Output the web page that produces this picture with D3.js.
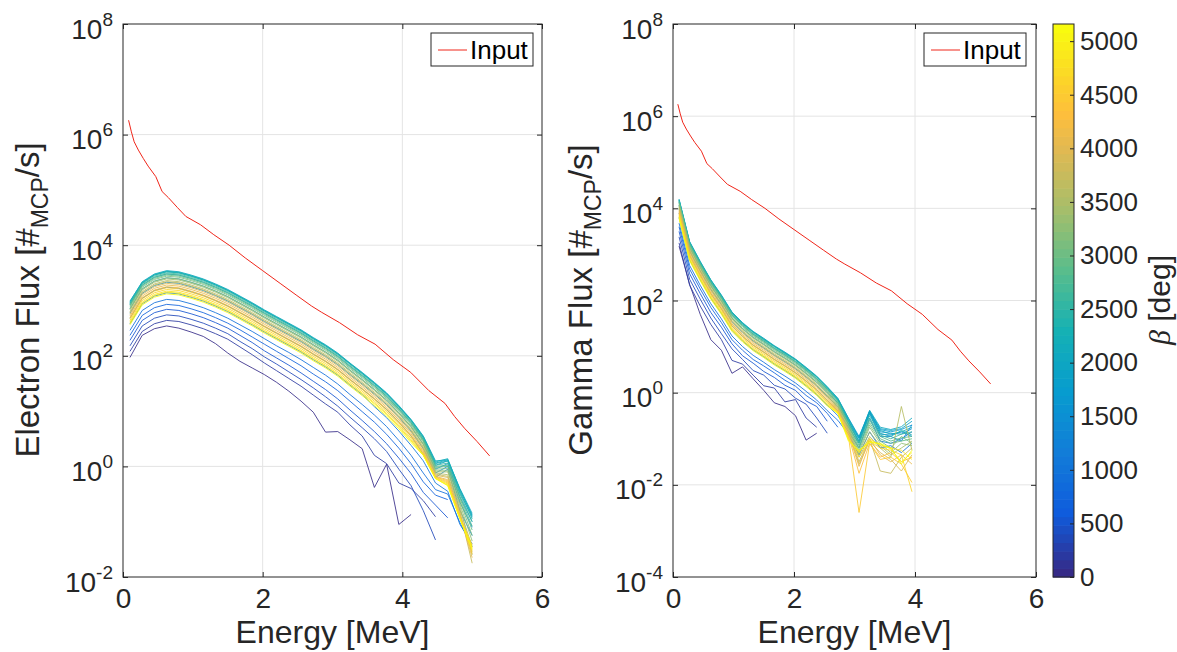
<!DOCTYPE html>
<html>
<head>
<meta charset="utf-8">
<script src="https://cdn.jsdelivr.net/npm/d3@7"></script>
<style>
  body { margin: 0; background: #fff; }
  text { font-family: "Liberation Sans", Arial, Helvetica, sans-serif; fill: #262626; }
</style>
</head>
<body>
<svg id="chart" width="1177" height="652"></svg>
<script>
// energy grid of the simulated spectra [MeV]
const energy = [0.1, 0.275, 0.45, 0.625, 0.8, 0.975, 1.15, 1.325, 1.5, 1.675, 1.85, 2.025, 2.2, 2.375,
  2.55, 2.725, 2.9, 3.075, 3.25, 3.425, 3.6, 3.775, 3.95, 4.125, 4.3, 4.475, 4.65, 4.825, 5.0];

// beta of each curve [deg]
const beta = [0, 172, 344, 516, 688, 860, 1032, 1204, 1376, 1548, 1720, 1892, 2064, 2236, 2408, 2580,
  2752, 2924, 3096, 3268, 3440, 3612, 3784, 3956, 4128, 4300, 4472, 4644, 4816, 4988, 5160];
const betaMax = 5160;

// input spectrum (log10 flux)
const inputEnergy = [0.08, 0.12, 0.16, 0.22, 0.29, 0.36, 0.47, 0.56, 0.65, 0.78, 0.90, 1.11, 1.30, 1.52, 1.75,
  2.00, 2.25, 2.49, 2.70, 2.84, 3.10, 3.36, 3.61, 3.87, 4.12, 4.38, 4.61, 4.75, 4.89, 5.07, 5.25];
const inputLog = [6.26, 6.05, 5.87, 5.72, 5.57, 5.43, 5.24, 4.97, 4.86, 4.68, 4.52, 4.37, 4.19, 4.00, 3.77,
  3.54, 3.31, 3.09, 2.90, 2.79, 2.60, 2.38, 2.21, 1.93, 1.70, 1.37, 1.14, 0.90, 0.69, 0.45, 0.19];

// electron flux, log10, one row per beta
const electronLog = [
  [1.97, 2.37, 2.49, 2.54, 2.50, 2.43, 2.35, 2.22, 2.05, 1.90, 1.78, 1.66, 1.52, 1.36, 1.18, 0.98, 0.62, 0.63, 0.48, 0.32, -0.38, 0.04, -1.05, -0.87],
  [2.08, 2.44, 2.58, 2.64, 2.62, 2.56, 2.49, 2.40, 2.30, 2.16, 2.02, 1.87, 1.73, 1.59, 1.45, 1.29, 1.13, 0.98, 0.75, 0.55, 0.20, 0.05, -0.30, -0.40, -0.62, -0.91],
  [2.18, 2.54, 2.68, 2.74, 2.72, 2.66, 2.59, 2.50, 2.40, 2.26, 2.13, 1.98, 1.85, 1.71, 1.57, 1.42, 1.26, 1.09, 0.89, 0.70, 0.50, 0.27, -0.05, -0.35, -0.80, -1.33],
  [2.28, 2.64, 2.78, 2.84, 2.82, 2.76, 2.69, 2.60, 2.50, 2.37, 2.24, 2.09, 1.96, 1.83, 1.69, 1.54, 1.39, 1.22, 1.02, 0.83, 0.63, 0.41, 0.15, -0.13, -0.47, -0.70, -0.93],
  [2.37, 2.73, 2.87, 2.93, 2.91, 2.85, 2.78, 2.69, 2.59, 2.47, 2.34, 2.21, 2.08, 1.95, 1.82, 1.67, 1.53, 1.37, 1.18, 0.99, 0.80, 0.58, 0.33, 0.05, -0.28, -0.52, -0.60],
  [2.46, 2.82, 2.96, 3.02, 3.00, 2.94, 2.87, 2.78, 2.68, 2.56, 2.44, 2.31, 2.18, 2.06, 1.93, 1.79, 1.65, 1.49, 1.30, 1.12, 0.93, 0.72, 0.47, 0.20, -0.12, -0.42, -0.50, -1.02, -1.45],
  [2.58, 2.94, 3.08, 3.14, 3.12, 3.06, 2.99, 2.90, 2.80, 2.68, 2.56, 2.43, 2.31, 2.19, 2.07, 1.93, 1.80, 1.65, 1.47, 1.30, 1.08, 0.88, 0.64, 0.38, 0.10, -0.30, -0.45, -1.05, -1.40],
  [2.68, 3.04, 3.18, 3.24, 3.22, 3.16, 3.09, 3.00, 2.90, 2.78, 2.66, 2.53, 2.41, 2.29, 2.17, 2.03, 1.90, 1.75, 1.57, 1.40, 1.22, 1.03, 0.80, 0.55, 0.22, -0.20, -0.05, -0.80, -1.25],
  [2.77, 3.13, 3.27, 3.33, 3.31, 3.25, 3.18, 3.09, 2.99, 2.87, 2.75, 2.62, 2.50, 2.38, 2.26, 2.12, 1.99, 1.84, 1.66, 1.49, 1.31, 1.12, 0.89, 0.64, 0.32, -0.12, 0.00, -0.65, -1.10],
  [2.85, 3.21, 3.35, 3.41, 3.39, 3.33, 3.26, 3.17, 3.07, 2.95, 2.83, 2.70, 2.58, 2.46, 2.34, 2.20, 2.07, 1.92, 1.74, 1.57, 1.39, 1.20, 0.97, 0.72, 0.40, -0.05, 0.05, -0.55, -1.00],
  [2.92, 3.28, 3.42, 3.48, 3.46, 3.40, 3.33, 3.24, 3.14, 3.02, 2.90, 2.77, 2.65, 2.53, 2.41, 2.27, 2.14, 1.99, 1.81, 1.64, 1.46, 1.27, 1.04, 0.79, 0.48, 0.02, 0.10, -0.48, -0.92],
  [2.96, 3.32, 3.46, 3.52, 3.50, 3.44, 3.37, 3.28, 3.18, 3.06, 2.94, 2.81, 2.69, 2.57, 2.45, 2.31, 2.18, 2.03, 1.85, 1.68, 1.50, 1.31, 1.08, 0.83, 0.52, 0.06, 0.12, -0.42, -0.88],
  [2.98, 3.34, 3.48, 3.54, 3.52, 3.46, 3.39, 3.30, 3.20, 3.08, 2.96, 2.83, 2.71, 2.59, 2.47, 2.33, 2.20, 2.05, 1.87, 1.70, 1.52, 1.33, 1.10, 0.85, 0.55, 0.10, 0.12, -0.40, -0.85],
  [2.99, 3.33, 3.47, 3.53, 3.51, 3.45, 3.38, 3.29, 3.19, 3.07, 2.95, 2.82, 2.70, 2.58, 2.46, 2.32, 2.19, 2.04, 1.86, 1.69, 1.51, 1.32, 1.09, 0.84, 0.54, 0.08, 0.14, -0.42, -0.90],
  [2.95, 3.31, 3.46, 3.52, 3.50, 3.44, 3.37, 3.28, 3.18, 3.06, 2.94, 2.81, 2.69, 2.57, 2.45, 2.31, 2.18, 2.03, 1.86, 1.68, 1.50, 1.31, 1.08, 0.83, 0.52, 0.05, 0.10, -0.45, -0.95],
  [2.94, 3.30, 3.44, 3.50, 3.48, 3.42, 3.35, 3.26, 3.16, 3.04, 2.92, 2.79, 2.67, 2.55, 2.43, 2.29, 2.16, 2.01, 1.83, 1.66, 1.48, 1.29, 1.06, 0.81, 0.50, 0.02, 0.06, -0.50, -1.00],
  [2.92, 3.28, 3.42, 3.48, 3.46, 3.40, 3.33, 3.24, 3.14, 3.02, 2.90, 2.77, 2.65, 2.53, 2.41, 2.27, 2.14, 1.99, 1.81, 1.64, 1.46, 1.27, 1.04, 0.79, 0.48, 0.00, 0.02, -0.55, -1.08],
  [2.90, 3.26, 3.40, 3.46, 3.44, 3.38, 3.31, 3.22, 3.12, 3.00, 2.88, 2.75, 2.63, 2.51, 2.39, 2.25, 2.12, 1.97, 1.79, 1.62, 1.44, 1.25, 1.02, 0.77, 0.46, -0.02, 0.00, -0.58, -1.15],
  [2.88, 3.24, 3.38, 3.44, 3.42, 3.36, 3.29, 3.20, 3.10, 2.98, 2.86, 2.73, 2.61, 2.49, 2.37, 2.23, 2.10, 1.95, 1.77, 1.60, 1.42, 1.23, 1.00, 0.75, 0.44, -0.05, -0.04, -0.62, -1.25],
  [2.85, 3.21, 3.35, 3.41, 3.39, 3.33, 3.26, 3.17, 3.07, 2.95, 2.83, 2.70, 2.58, 2.46, 2.34, 2.20, 2.07, 1.92, 1.74, 1.57, 1.39, 1.20, 0.97, 0.72, 0.41, -0.08, -0.08, -0.68, -1.35],
  [2.83, 3.19, 3.33, 3.39, 3.37, 3.31, 3.24, 3.15, 3.05, 2.93, 2.81, 2.68, 2.56, 2.44, 2.32, 2.18, 2.05, 1.90, 1.72, 1.55, 1.37, 1.18, 0.95, 0.70, 0.39, -0.10, -0.10, -0.72, -1.60],
  [2.80, 3.16, 3.30, 3.36, 3.34, 3.28, 3.21, 3.12, 3.02, 2.90, 2.78, 2.65, 2.53, 2.41, 2.29, 2.15, 2.02, 1.87, 1.69, 1.52, 1.34, 1.15, 0.92, 0.67, 0.36, -0.12, -0.15, -0.78, -1.45],
  [2.78, 3.14, 3.28, 3.34, 3.32, 3.26, 3.19, 3.10, 3.00, 2.88, 2.76, 2.63, 2.51, 2.39, 2.27, 2.13, 2.00, 1.85, 1.67, 1.50, 1.32, 1.13, 0.90, 0.65, 0.34, -0.14, -0.18, -0.82, -1.75],
  [2.75, 3.11, 3.25, 3.31, 3.29, 3.23, 3.16, 3.07, 2.97, 2.85, 2.73, 2.60, 2.48, 2.36, 2.24, 2.10, 1.97, 1.82, 1.64, 1.47, 1.29, 1.10, 0.87, 0.62, 0.31, -0.16, -0.20, -0.85, -1.55],
  [2.72, 3.08, 3.22, 3.28, 3.26, 3.20, 3.13, 3.04, 2.94, 2.82, 2.70, 2.57, 2.45, 2.33, 2.21, 2.07, 1.94, 1.79, 1.61, 1.44, 1.26, 1.07, 0.84, 0.59, 0.28, -0.18, -0.24, -0.88, -1.65],
  [2.69, 3.05, 3.19, 3.25, 3.23, 3.17, 3.10, 3.01, 2.91, 2.79, 2.67, 2.54, 2.42, 2.30, 2.18, 2.04, 1.91, 1.76, 1.58, 1.41, 1.23, 1.04, 0.81, 0.56, 0.26, -0.19, -0.26, -0.90, -1.48],
  [2.67, 3.03, 3.17, 3.23, 3.21, 3.15, 3.08, 2.99, 2.89, 2.77, 2.65, 2.52, 2.40, 2.28, 2.16, 2.02, 1.89, 1.74, 1.56, 1.39, 1.21, 1.02, 0.79, 0.54, 0.24, -0.20, -0.28, -0.92, -1.58],
  [2.64, 3.00, 3.14, 3.20, 3.18, 3.12, 3.05, 2.96, 2.86, 2.74, 2.62, 2.49, 2.37, 2.25, 2.13, 1.99, 1.86, 1.71, 1.53, 1.36, 1.18, 0.99, 0.76, 0.51, 0.22, -0.21, -0.30, -0.93, -1.42],
  [2.61, 2.97, 3.11, 3.17, 3.15, 3.09, 3.02, 2.93, 2.83, 2.71, 2.59, 2.46, 2.34, 2.22, 2.10, 1.96, 1.83, 1.68, 1.50, 1.33, 1.15, 0.96, 0.73, 0.48, 0.21, -0.22, -0.32, -0.94, -1.52],
  [2.59, 2.95, 3.09, 3.15, 3.13, 3.07, 3.00, 2.91, 2.81, 2.69, 2.57, 2.44, 2.32, 2.20, 2.08, 1.94, 1.81, 1.66, 1.48, 1.31, 1.13, 0.94, 0.71, 0.46, 0.20, -0.22, -0.34, -0.95, -1.46],
  [2.56, 2.92, 3.06, 3.12, 3.10, 3.04, 2.97, 2.88, 2.78, 2.66, 2.54, 2.41, 2.29, 2.17, 2.05, 1.91, 1.78, 1.63, 1.45, 1.28, 1.10, 0.91, 0.68, 0.43, 0.20, -0.22, -0.35, -0.95, -1.50]
];

// gamma flux, log10, one row per beta
const gammaLog = [
  [3.18, 2.35, 1.70, 1.15, 0.92, 0.42, 0.56, 0.30, 0.05, -0.22, -0.30, -0.50, -1.03, -0.88],
  [3.25, 2.33, 1.88, 1.48, 1.15, 0.70, 0.62, 0.38, 0.15, 0.10, -0.20, -0.15, -0.55, -0.75],
  [3.38, 2.46, 2.03, 1.62, 1.28, 0.95, 0.72, 0.48, 0.38, 0.16, 0.08, -0.12, -0.25, -0.55, -0.88],
  [3.50, 2.58, 2.15, 1.74, 1.42, 1.06, 0.80, 0.64, 0.46, 0.33, 0.16, 0.05, -0.18, -0.30, -0.62],
  [3.60, 2.68, 2.25, 1.85, 1.52, 1.15, 0.92, 0.72, 0.58, 0.43, 0.27, 0.14, -0.06, -0.22, -0.45, -0.75],
  [3.68, 2.76, 2.33, 1.93, 1.60, 1.23, 1.00, 0.81, 0.66, 0.50, 0.36, 0.21, 0.03, -0.16, -0.39, -0.60, -0.90, -1.35, -0.85, -1.20, -1.15, -1.30, -1.10],
  [3.80, 2.88, 2.45, 2.05, 1.72, 1.35, 1.12, 0.93, 0.78, 0.62, 0.48, 0.33, 0.15, -0.04, -0.27, -0.50, -0.85, -1.20, -0.55, -1.05, -1.10, -1.00, -0.85],
  [3.90, 2.98, 2.55, 2.15, 1.82, 1.45, 1.22, 1.03, 0.88, 0.72, 0.58, 0.43, 0.25, 0.06, -0.17, -0.40, -0.75, -1.10, -0.45, -0.95, -0.95, -1.05, -0.70],
  [3.99, 3.07, 2.64, 2.24, 1.91, 1.54, 1.31, 1.12, 0.97, 0.81, 0.67, 0.52, 0.34, 0.15, -0.08, -0.30, -0.68, -1.05, -0.42, -0.90, -0.92, -0.85, -0.95],
  [4.07, 3.15, 2.72, 2.32, 1.99, 1.62, 1.39, 1.20, 1.05, 0.89, 0.75, 0.60, 0.42, 0.23, 0.00, -0.22, -0.62, -1.00, -0.40, -0.85, -0.88, -0.90, -0.78],
  [4.14, 3.22, 2.79, 2.39, 2.06, 1.69, 1.46, 1.27, 1.12, 0.96, 0.82, 0.67, 0.49, 0.30, 0.07, -0.16, -0.58, -0.98, -0.42, -0.80, -0.85, -0.80, -0.70],
  [4.18, 3.26, 2.83, 2.43, 2.10, 1.73, 1.50, 1.31, 1.16, 1.00, 0.86, 0.71, 0.53, 0.34, 0.11, -0.13, -0.55, -0.95, -0.40, -0.78, -0.82, -0.78, -0.62],
  [4.20, 3.28, 2.85, 2.45, 2.12, 1.75, 1.52, 1.33, 1.18, 1.02, 0.88, 0.73, 0.55, 0.36, 0.13, -0.12, -0.56, -0.98, -0.38, -0.75, -0.80, -0.74, -0.55],
  [4.19, 3.27, 2.84, 2.44, 2.11, 1.74, 1.51, 1.32, 1.17, 1.01, 0.87, 0.72, 0.54, 0.35, 0.12, -0.14, -0.60, -1.05, -0.45, -0.82, -0.90, -0.85, -0.75],
  [4.17, 3.25, 2.82, 2.44, 2.09, 1.74, 1.49, 1.32, 1.15, 1.01, 0.85, 0.72, 0.52, 0.35, 0.10, -0.15, -0.62, -1.08, -0.50, -0.88, -0.95, -0.82, -0.92],
  [4.16, 3.24, 2.81, 2.41, 2.08, 1.71, 1.48, 1.29, 1.14, 0.98, 0.84, 0.69, 0.51, 0.32, 0.09, -0.18, -0.65, -1.10, -0.55, -0.92, -1.00, -0.90, -0.85],
  [4.14, 3.22, 2.79, 2.39, 2.06, 1.69, 1.46, 1.27, 1.12, 0.96, 0.82, 0.67, 0.49, 0.30, 0.07, -0.20, -0.68, -1.15, -0.60, -0.95, -1.05, -0.98, -0.95],
  [4.12, 3.20, 2.77, 2.37, 2.04, 1.67, 1.44, 1.25, 1.10, 0.94, 0.80, 0.65, 0.47, 0.28, 0.05, -0.22, -0.70, -1.20, -0.65, -1.00, -1.10, -1.05, -1.00],
  [4.10, 3.18, 2.75, 2.35, 2.02, 1.65, 1.42, 1.23, 1.08, 0.92, 0.78, 0.63, 0.45, 0.26, 0.03, -0.25, -0.72, -1.25, -0.70, -1.05, -1.20, -0.95, -1.10],
  [4.07, 3.15, 2.72, 2.32, 1.99, 1.62, 1.39, 1.20, 1.05, 0.89, 0.75, 0.60, 0.42, 0.23, 0.00, -0.27, -0.75, -1.30, -0.75, -1.10, -1.30, -1.10, -1.15],
  [4.05, 3.13, 2.70, 2.30, 1.97, 1.60, 1.37, 1.18, 1.03, 0.87, 0.73, 0.58, 0.40, 0.21, -0.02, -0.30, -0.78, -1.35, -0.85, -1.15, -1.35, -1.20, -1.05],
  [4.02, 3.10, 2.67, 2.27, 1.94, 1.57, 1.34, 1.15, 1.00, 0.84, 0.70, 0.55, 0.37, 0.18, -0.05, -0.32, -0.80, -1.40, -0.95, -1.20, -1.40, -0.30, -1.25],
  [4.00, 3.08, 2.65, 2.25, 1.92, 1.55, 1.32, 1.13, 0.98, 0.82, 0.68, 0.53, 0.35, 0.16, -0.07, -0.34, -0.82, -1.50, -1.00, -1.70, -1.75, -1.40, -1.20],
  [3.97, 3.05, 2.62, 2.22, 1.89, 1.52, 1.29, 1.10, 0.95, 0.79, 0.65, 0.50, 0.32, 0.13, -0.10, -0.36, -0.85, -1.55, -1.05, -1.30, -1.45, -1.70, -1.35],
  [3.94, 3.02, 2.59, 2.19, 1.86, 1.49, 1.26, 1.07, 0.92, 0.76, 0.62, 0.47, 0.29, 0.10, -0.13, -0.38, -0.88, -1.60, -1.00, -1.35, -1.50, -1.35, -1.55],
  [3.91, 2.99, 2.56, 2.16, 1.83, 1.46, 1.23, 1.04, 0.89, 0.73, 0.59, 0.44, 0.26, 0.07, -0.16, -0.40, -0.92, -1.75, -1.10, -1.40, -1.30, -1.50, -1.40],
  [3.89, 2.97, 2.54, 2.14, 1.81, 1.44, 1.21, 1.02, 0.87, 0.71, 0.57, 0.42, 0.24, 0.05, -0.18, -0.42, -0.95, -2.60, -1.10, -1.45, -1.40, -1.55, -1.95],
  [3.86, 2.94, 2.51, 2.11, 1.78, 1.41, 1.18, 0.99, 0.84, 0.68, 0.54, 0.39, 0.21, 0.02, -0.21, -0.43, -0.98, -1.40, -1.05, -1.20, -1.25, -1.35, -2.15],
  [3.83, 2.91, 2.48, 2.08, 1.75, 1.38, 1.15, 0.96, 0.81, 0.65, 0.51, 0.36, 0.18, -0.01, -0.24, -0.44, -1.00, -1.30, -1.00, -1.15, -1.20, -1.25, -1.45],
  [3.81, 2.89, 2.46, 2.06, 1.73, 1.36, 1.13, 0.94, 0.79, 0.63, 0.49, 0.34, 0.16, -0.03, -0.26, -0.44, -1.02, -1.28, -1.05, -1.12, -1.22, -1.50, -1.30],
  [3.78, 2.86, 2.43, 2.03, 1.70, 1.33, 1.10, 0.91, 0.76, 0.60, 0.46, 0.31, 0.13, -0.06, -0.29, -0.45, -1.05, -1.25, -1.08, -1.10, -1.20, -1.55, -1.25]
];

// tick labels
const xTicks = [0, 2, 4, 6];
const electronYTicks = [-2, 0, 2, 4, 6, 8];
const gammaYTicks = [-4, -2, 0, 2, 4, 6, 8];
const betaTicks = [0, 500, 1000, 1500, 2000, 2500, 3000, 3500, 4000, 4500, 5000];

// parula colormap
const parulaStops = ["#352a87", "#0f5cdd", "#127dd8", "#079ccf", "#15b1b4", "#59bd8c",
  "#a5be6b", "#e1b952", "#fdbe3d", "#fcce2e", "#f9fb0e"];
const parula = d3.scaleLinear()
  .domain([0, 7, 14, 21, 28, 35, 42, 49, 53, 56, 63].map(d => d / 63))
  .range(parulaStops)
  .interpolate(d3.interpolateRgb);
const betaColor = b => parula(Math.round(b / betaMax * 63) / 63);

const svg = d3.select("#chart");
const ink = "#262626";
const font = "Liberation Sans, Arial, sans-serif";

const panels = [
  { left: 123, right: 542, top: 24, bottom: 577, yTicks: electronYTicks, curves: electronLog,
    label: "Electron Flux [#", labelX: 39, legendX: 431 },
  { left: 673, right: 1036, top: 24, bottom: 577, yTicks: gammaYTicks, curves: gammaLog,
    label: "Gamma Flux [#", labelX: 592, legendX: 924 }
];

function cleanAxis(sel) {
  sel.select(".domain").remove();
  sel.selectAll("line").attr("stroke", ink);
}

panels.forEach(p => {
  const x = d3.scaleLinear().domain([0, 6]).range([p.left, p.right]);
  const y = d3.scaleLog()
    .domain([Math.pow(10, p.yTicks[0]), Math.pow(10, p.yTicks[p.yTicks.length - 1])])
    .range([p.bottom, p.top]);
  const yVals = p.yTicks.map(e => Math.pow(10, e));
  const g = svg.append("g");

  // grid
  g.append("g").selectAll("line").data(xTicks.slice(1, -1)).join("line")
    .attr("x1", d => x(d)).attr("x2", d => x(d))
    .attr("y1", p.top).attr("y2", p.bottom)
    .attr("stroke", "#e4e4e4");
  g.append("g").selectAll("line").data(yVals.slice(1, -1)).join("line")
    .attr("x1", p.left).attr("x2", p.right)
    .attr("y1", d => y(d)).attr("y2", d => y(d))
    .attr("stroke", "#e4e4e4");

  // simulated curves
  const line = d3.line()
    .x((d, i) => x(energy[i]))
    .y(d => y(Math.pow(10, d)));
  g.append("g").selectAll("path").data(p.curves).join("path")
    .attr("d", line)
    .attr("fill", "none")
    .attr("stroke", (d, i) => betaColor(beta[i]))
    .attr("stroke-width", 1)
    .attr("stroke-opacity", 0.85);

  // input spectrum
  const inputLine = d3.line()
    .x((d, i) => x(inputEnergy[i]))
    .y(d => y(Math.pow(10, d)));
  g.append("path").datum(inputLog)
    .attr("d", inputLine)
    .attr("fill", "none")
    .attr("stroke", "#f0261a")
    .attr("stroke-width", 1);

  // axes, ticks inside on all four sides
  g.append("g").attr("transform", `translate(0,${p.bottom})`)
    .call(d3.axisBottom(x).tickValues(xTicks).tickSizeInner(-5).tickSizeOuter(0)
      .tickFormat(d3.format("d")))
    .call(cleanAxis)
    .selectAll("text")
    .attr("y", 11)
    .attr("font-size", 28)
    .attr("font-family", font)
    .attr("fill", ink);

  g.append("g").attr("transform", `translate(0,${p.top})`)
    .call(d3.axisTop(x).tickValues(xTicks).tickSizeInner(-5).tickSizeOuter(0).tickFormat(""))
    .call(cleanAxis);

  g.append("g").attr("transform", `translate(${p.right},0)`)
    .call(d3.axisRight(y).tickValues(yVals).tickSizeInner(-5).tickSizeOuter(0).tickFormat(""))
    .call(cleanAxis);

  const left = g.append("g").attr("transform", `translate(${p.left},0)`)
    .call(d3.axisLeft(y).tickValues(yVals).tickSizeInner(-5).tickSizeOuter(0).tickFormat(""))
    .call(cleanAxis);

  left.selectAll(".tick").each(function (d, i) {
    const t = d3.select(this).append("text")
      .attr("x", -10).attr("y", 14)
      .attr("text-anchor", "end")
      .attr("font-size", 28)
      .attr("font-family", font)
      .attr("fill", ink);
    t.append("tspan").text("10");
    t.append("tspan").attr("dy", -13).attr("font-size", 19).text(p.yTicks[i]);
  });

  // box
  g.append("rect")
    .attr("x", p.left).attr("y", p.top)
    .attr("width", p.right - p.left).attr("height", p.bottom - p.top)
    .attr("fill", "none").attr("stroke", ink).attr("stroke-width", 1);

  // axis labels
  g.append("text")
    .attr("x", (p.left + p.right) / 2).attr("y", 643)
    .attr("text-anchor", "middle")
    .attr("font-size", 32)
    .text("Energy [MeV]");

  const yl = g.append("text")
    .attr("transform", `translate(${p.labelX},300) rotate(-90)`)
    .attr("text-anchor", "middle")
    .attr("font-size", 33);
  yl.append("tspan").text(p.label);
  yl.append("tspan").attr("dy", 9).attr("font-size", 23).text("MCP");
  yl.append("tspan").attr("dy", -9).text("/s]");

  // legend
  const lg = g.append("g").attr("transform", `translate(${p.legendX},33)`);
  lg.append("rect").attr("width", 102).attr("height", 33)
    .attr("fill", "#fff").attr("stroke", ink).attr("stroke-width", 1);
  lg.append("line").attr("x1", 7).attr("x2", 36).attr("y1", 17).attr("y2", 17)
    .attr("stroke", "#f0261a").attr("stroke-width", 1);
  lg.append("text").attr("x", 39).attr("y", 26)
    .attr("font-size", 26).style("fill", "#000")
    .text("Input");
});

// colorbar
const cb = { left: 1053, right: 1074, top: 24, bottom: 577 };
const cbY = d3.scaleLinear().domain([0, betaMax]).range([cb.bottom, cb.top]);
const bands = d3.range(64);
svg.append("g").selectAll("rect").data(bands).join("rect")
  .attr("x", cb.left)
  .attr("width", cb.right - cb.left)
  .attr("y", j => cbY((j + 1) / 64 * betaMax))
  .attr("height", j => cbY(j / 64 * betaMax) - cbY((j + 1) / 64 * betaMax) + 0.6)
  .attr("fill", j => parula(j / 63));
svg.append("rect")
  .attr("x", cb.left).attr("y", cb.top)
  .attr("width", cb.right - cb.left).attr("height", cb.bottom - cb.top)
  .attr("fill", "none").attr("stroke", ink).attr("stroke-width", 1);
svg.append("g").attr("transform", `translate(${cb.right},0)`)
  .call(d3.axisRight(cbY).tickValues(betaTicks).tickSizeInner(-4).tickSizeOuter(0).tickPadding(6)
    .tickFormat(d3.format("d")))
  .call(cleanAxis)
  .selectAll("text")
  .attr("font-size", 26)
  .attr("font-family", font)
  .attr("fill", ink);

const cl = svg.append("text")
  .attr("transform", "translate(1170,300) rotate(-90)")
  .attr("text-anchor", "middle")
  .attr("font-size", 30);
cl.append("tspan")
  .attr("font-family", "Liberation Serif, DejaVu Serif, serif")
  .attr("font-style", "italic")
  .text("β");
cl.append("tspan").text(" [deg]");
</script>
</body>
</html>
